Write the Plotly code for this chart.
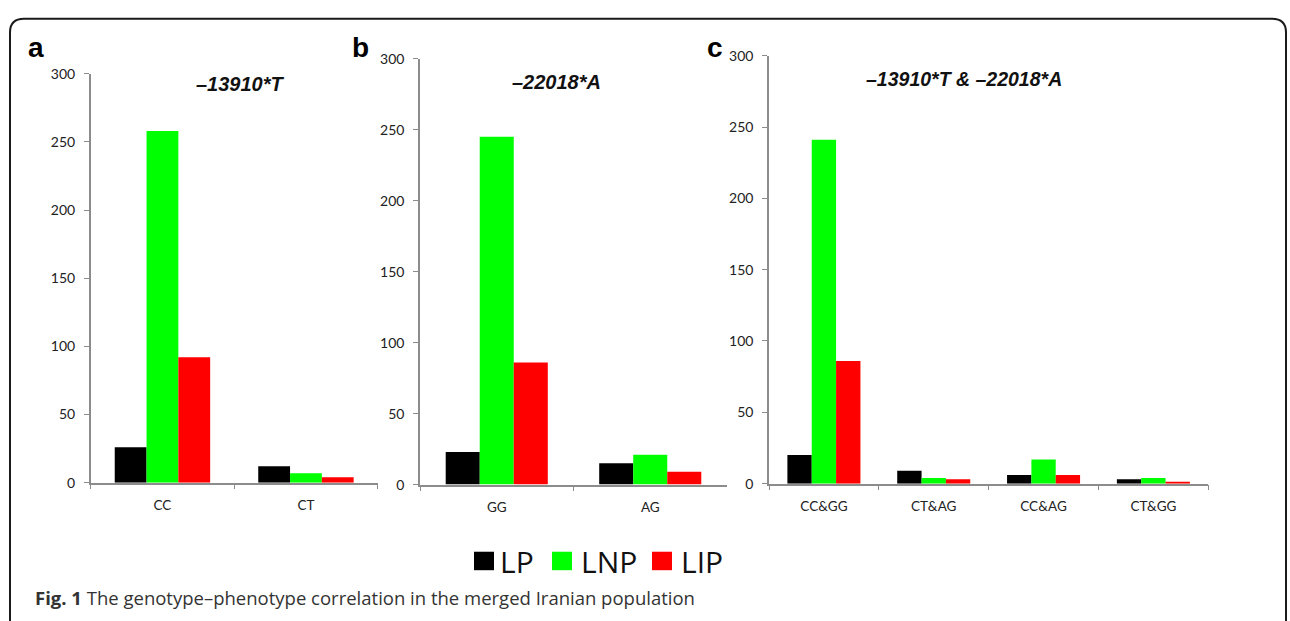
import plotly.graph_objects as go

# ---------------- data ----------------
series_names = ["LP", "LNP", "LIP"]
series_colors = ["#000000", "#00ff00", "#ff0000"]

cats_a = ["CC", "CT"]
lp_a = [26, 12]
lnp_a = [258, 7]
lip_a = [92, 4]

cats_b = ["GG", "AG"]
lp_b = [23, 15]
lnp_b = [245, 21]
lip_b = [86, 9]

cats_c = ["CC&GG", "CT&AG", "CC&AG", "CT&GG"]
lp_c = [20, 9, 6, 3]
lnp_c = [241, 4, 17, 4]
lip_c = [86, 3, 6, 1]

y_tick_vals = [0, 50, 100, 150, 200, 250, 300]
panel_titles = ["\u201313910*T", "\u201322018*A", "\u201313910*T & \u201322018*A"]
panel_letters = ["a", "b", "c"]
caption = "<b>Fig. 1</b> The genotype\u2013phenotype correlation in the merged Iranian population"

# ---------------- layout helpers ----------------
W, H = 1290, 621


def px(x):
    return x / W


def py(y):
    return 1 - y / H


fig = go.Figure()

panels = [
    (cats_a, [lp_a, lnp_a, lip_a], "x", "y"),
    (cats_b, [lp_b, lnp_b, lip_b], "x2", "y2"),
    (cats_c, [lp_c, lnp_c, lip_c], "x3", "y3"),
]
for cats, vals, xa, ya in panels:
    for name, color, v in zip(series_names, series_colors, vals):
        fig.add_trace(go.Bar(
            x=cats, y=v, name=name, xaxis=xa, yaxis=ya,
            marker=dict(color=color, line=dict(width=0)),
            showlegend=False, hoverinfo="x+y+name",
        ))

# pixel geometry of each panel: (x_left, x_right, y_bottom, y_top)
geom = [
    (90.7, 377.7, 487, 66.5),
    (420, 727, 489, 51),
    (769, 1208.3, 488, 48),
]

y_tick_font = dict(family="Lato, Noto Sans, sans-serif", size=14, color="#222222")
x_tick_font = dict(family="Lato, Noto Sans, sans-serif", size=13.5, color="#222222")
axis_col = "#8c8c8c"

for i, (xl, xr, yb, yt) in enumerate(geom):
    sfx = "" if i == 0 else str(i + 1)
    fig.layout["xaxis" + sfx] = dict(
        domain=[px(xl), px(xr)], anchor="y" + sfx,
        showline=True, linecolor=axis_col, linewidth=1.5,
        ticks="outside", tickson="boundaries", ticklen=5, tickcolor=axis_col, tickwidth=1.2,
        showgrid=False, zeroline=False, tickfont=x_tick_font, ticklabelstandoff=9,
        fixedrange=True,
    )
    fig.layout["yaxis" + sfx] = dict(
        domain=[py(yb), py(yt)], anchor="x" + sfx, range=[0, 300],
        tickvals=y_tick_vals,
        showline=True, linecolor=axis_col, linewidth=1.5,
        ticks="outside", ticklen=5, tickcolor=axis_col, tickwidth=1.2,
        showgrid=False, zeroline=False, tickfont=y_tick_font, ticklabelstandoff=6,
        fixedrange=True,
    )

annotations = []
title_pos = [(240, 77), (556, 75), (964, 72)]
title_size = [20, 20, 19.5]
for t, (x, y), fs in zip(panel_titles, title_pos, title_size):
    annotations.append(dict(
        text="<b><i>" + t + "</i></b>", x=px(x), y=py(y), xref="paper", yref="paper",
        xanchor="center", yanchor="middle", showarrow=False,
        font=dict(family="Liberation Sans, Arial, sans-serif", size=fs, color="#111111"),
    ))

letter_pos = [(36, 40), (361, 40), (715, 40)]
for t, (x, y) in zip(panel_letters, letter_pos):
    annotations.append(dict(
        text="<b>" + t + "</b>", x=px(x), y=py(y), xref="paper", yref="paper",
        xanchor="center", yanchor="middle", showarrow=False,
        font=dict(family="Liberation Sans, Arial, sans-serif", size=28, color="#000000"),
    ))

annotations.append(dict(
    text=caption, x=px(33), y=py(605), xref="paper", yref="paper",
    xanchor="left", yanchor="middle", showarrow=False,
    font=dict(family="Open Sans, sans-serif", size=18.5, color="#333333"),
))

# custom legend (larger squares than plotly's fixed-size legend icons)
shapes = []
legend_sq = [474, 552, 652]
legend_tx = [498, 579, 679]
for name, color, sx, tx in zip(series_names, series_colors, legend_sq, legend_tx):
    shapes.append(dict(
        type="rect", xref="paper", yref="paper",
        x0=px(sx), x1=px(sx + 20), y0=py(577), y1=py(558),
        fillcolor=color, line=dict(width=0),
    ))
    annotations.append(dict(
        text=name, x=px(tx), y=py(568), xref="paper", yref="paper",
        xanchor="left", yanchor="middle", showarrow=False,
        font=dict(family="Open Sans, Noto Sans, sans-serif", size=30, color="#111111"),
    ))

# rounded border around the figure
x0, x1, y0, y1, r = px(10), px(1286), py(10), py(640), 14
rx, ry = r / W, r / H
path = (f"M {x0},{y1} L {x0},{y0 - ry} Q {x0},{y0} {x0 + rx},{y0} "
        f"L {x1 - rx},{y0} Q {x1},{y0} {x1},{y0 - ry} L {x1},{y1}")
shapes.append(dict(type="path", xref="paper", yref="paper", path=path,
                   line=dict(color="#1a1a1a", width=2)))

fig.update_layout(
    width=W, height=H, autosize=False,
    margin=dict(l=0, r=0, t=0, b=0),
    paper_bgcolor="white", plot_bgcolor="white",
    barmode="group", bargap=0.335, bargroupgap=0,
    showlegend=False,
    annotations=annotations, shapes=shapes,
)

fig.write_html("out.html", config={"displayModeBar": False},
               post_script="document.body.style.margin='0';document.body.style.overflow='hidden';")
